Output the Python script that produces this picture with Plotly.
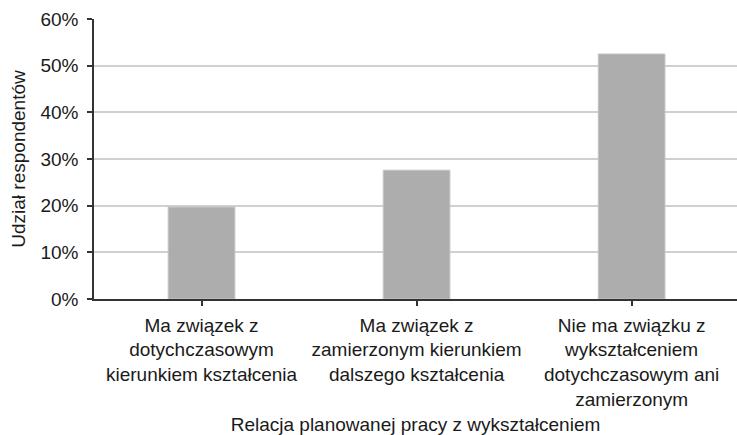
import plotly.graph_objects as go

categories = [
    "Ma związek z<br>dotychczasowym<br>kierunkiem kształcenia",
    "Ma związek z<br>zamierzonym kierunkiem<br>dalszego kształcenia",
    "Nie ma związku z<br>wykształceniem<br>dotychczasowym ani<br>zamierzonym",
]
values = [0.197, 0.276, 0.525]
y_ticks = [0, 0.1, 0.2, 0.3, 0.4, 0.5, 0.6]
y_title = "Udział respondentów"
x_title = "Relacja planowanej pracy z wykształceniem"

FONT = "Liberation Sans, Arial, sans-serif"

fig = go.Figure(
    go.Bar(
        x=[0, 1, 2],
        y=values,
        width=0.31,
        marker=dict(color="#adadad", line=dict(color="#c4c4c4", width=1)),
    )
)

fig.update_layout(
    width=737,
    height=435,
    margin=dict(l=94, r=0, t=19, b=136),
    plot_bgcolor="white",
    paper_bgcolor="white",
    showlegend=False,
    font=dict(family=FONT, size=19, color="#1a1a1a"),
)

fig.update_xaxes(
    range=[-0.5, 2.49],
    tickmode="array",
    tickvals=[0, 1, 2],
    ticktext=categories,
    tickson="boundaries",
    ticks="outside",
    ticklen=5,
    tickwidth=1.5,
    tickcolor="#333333",
    ticklabelstandoff=3,
    showline=True,
    linecolor="#333333",
    linewidth=1.5,
    showgrid=False,
    zeroline=False,
    automargin=False,
    title=dict(text=x_title, standoff=11, font=dict(size=19)),
)

fig.update_yaxes(
    range=[0, 0.6],
    tickvals=y_ticks,
    tickformat=".0%",
    ticks="outside",
    ticklen=5,
    tickwidth=1.5,
    tickcolor="#333333",
    ticklabelstandoff=5,
    showline=True,
    linecolor="#333333",
    linewidth=1.5,
    showgrid=True,
    gridcolor="#d0d0d0",
    gridwidth=1.5,
    zeroline=False,
    automargin=False,
    title=dict(text=y_title, standoff=10, font=dict(size=19)),
)

fig.write_html(
    "out.html",
    config={"displayModeBar": False},
    post_script="document.body.style.margin='0';document.body.style.overflow='hidden';",
)
